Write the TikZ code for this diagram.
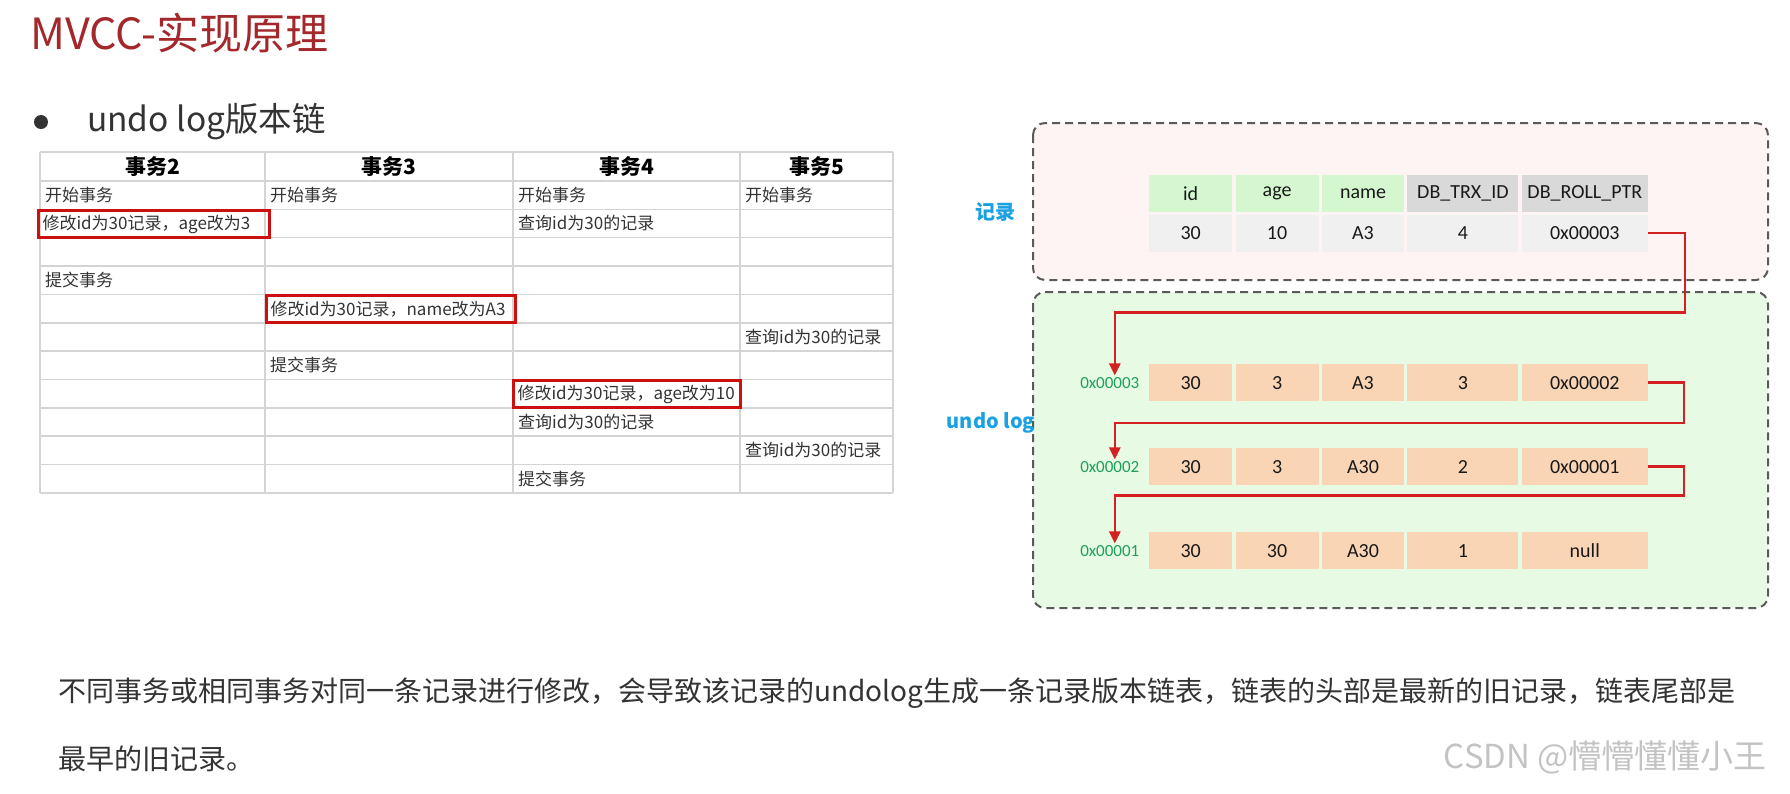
\documentclass[tikz,border=0pt]{standalone}
\usepackage{fontspec}
\setmainfont{Noto Sans CJK SC}
\newfontfamily\calibri{Carlito}
\usepackage{xcolor}
\usepackage{tikz}
\usetikzlibrary{positioning,arrows.meta,calc}
\definecolor{titleRed}{RGB}{164, 40, 43}
\definecolor{txtGray}{RGB}{51, 51, 51}
\definecolor{gridGray}{RGB}{212, 212, 212}
\definecolor{hlRed}{RGB}{204, 16, 16}
\definecolor{boxGray}{RGB}{90, 90, 90}
\definecolor{recBg}{RGB}{253, 244, 243}
\definecolor{undoBg}{RGB}{230, 250, 228}
\definecolor{headGreen}{RGB}{212, 247, 207}
\definecolor{headGray}{RGB}{217, 217, 217}
\definecolor{valGray}{RGB}{240, 240, 240}
\definecolor{undoCell}{RGB}{249, 213, 182}
\definecolor{hexGreen}{RGB}{31, 160, 90}
\definecolor{tagBlue}{RGB}{27, 161, 226}
\definecolor{linkRed}{RGB}{212, 32, 32}
\definecolor{markGray}{RGB}{195, 195, 195}
\newcommand\pxfont[1]{\fontsize{#1}{#1}\selectfont}

\begin{document}
\begin{tikzpicture}[x=1pt, y=-1pt,
    >={Triangle[length=12pt,width=11pt]},
    node distance=3pt and 3pt,
    hdr/.style={font=\pxfont{21}\bfseries, text=black, inner sep=0pt},
    cell/.style={anchor=west, inner sep=5pt, font=\pxfont{17}, text=txtGray},
    hilite/.style={draw=hlRed, line width=3pt, inner xsep=4pt, inner ysep=0pt, text width=#1, minimum height=27pt, align=left},
    gridline/.style={draw=gridGray, line width=1.5pt},
    box/.style={draw=boxGray, dash pattern=on 8pt off 5pt, line width=2pt, rounded corners=12pt},
    fld/.style={minimum height=37pt, inner sep=0pt, font=\calibri\pxfont{20}, text=black!90},
    addr/.style={font=\calibri\pxfont{17}, text=hexGreen, inner sep=1.5pt},
    tag/.style={font=\pxfont{20}\bfseries, text=tagBlue, inner sep=0pt},
    link/.style={draw=linkRed, line width=2.5pt}
]
\useasboundingbox (0,0) rectangle (1790,793);

% heading
\node[anchor=west, font=\pxfont{43}, text=titleRed, inner sep=0pt] (title) at (30,33) {MVCC-实现原理};
\node[circle, fill=txtGray, minimum size=14pt, inner sep=0pt] (dot) at (41,122) {};
\node[anchor=west, font=\pxfont{33.5}, text=txtGray, inner sep=0pt] (sub) at (87,122) {undo log版本链};

% transaction table
\foreach \y in {152,181,209.4,237.7,266.1,294.4,322.8,351.2,379.5,407.9,436.2,464.6,493}
    \draw[gridline] (40,\y) -- (893,\y);
\foreach \x in {40,265,513,740,893}
    \draw[gridline] (\x,152) -- (\x,493);

\node[hdr] (t2) at (152.5,166.5) {事务2};
\node[hdr] (t3) at (389,166.5) {事务3};
\node[hdr] (t4) at (626.5,166.5) {事务4};
\node[hdr] (t5) at (816.5,166.5) {事务5};

\node[cell] (r1c1) at (40,195.2) {开始事务};
\node[cell] (r1c2) at (265,195.2) {开始事务};
\node[cell] (r1c3) at (513,195.2) {开始事务};
\node[cell] (r1c4) at (740,195.2) {开始事务};
\node[cell, hilite=223pt] (r2c1) at (37,224) {修改id为30记录，age改为3};
\node[cell] (r2c3) at (513,223.5) {查询id为30的记录};
\node[cell] (r4c1) at (40,280.3) {提交事务};
\node[cell, hilite=241pt] (r5c2) at (265,309) {修改id为30记录，name改为A3};
\node[cell] (r6c4) at (740,337.0) {查询id为30的记录};
\node[cell] (r7c2) at (265,365.4) {提交事务};
\node[cell, hilite=219pt] (r8c3) at (512,394) {修改id为30记录，age改为10};
\node[cell] (r9c3) at (513,422.1) {查询id为30的记录};
\node[cell] (r10c4) at (740,450.4) {查询id为30的记录};
\node[cell] (r11c3) at (513,478.8) {提交事务};

% record and undo log areas
\draw[box, fill=recBg] (1033,123) rectangle (1768,280);
\draw[box, fill=undoBg] (1033,292) rectangle (1768,608);
\node[tag] (lbl-rec) at (995,212) {记录};
\node[tag] (lbl-undo) at (991,423) {undo log};

\node[fld, fill=headGreen, minimum width=83pt, anchor=north west] (r-id) at (1149,175) {id};
\node[fld, fill=headGreen, minimum width=83pt, right=of r-id] (r-age) {age};
\node[fld, fill=headGreen, minimum width=82pt, right=of r-age] (r-name) {name};
\node[fld, fill=headGray, minimum width=111pt, right=of r-name] (r-trx) {DB\_TRX\_ID};
\node[fld, fill=headGray, minimum width=126pt, right=of r-trx] (r-ptr) {DB\_ROLL\_PTR};
\node[fld, fill=valGray, minimum width=83pt, below=2pt of r-id] (v-id) {30};
\node[fld, fill=valGray, minimum width=83pt, below=2pt of r-age] (v-age) {10};
\node[fld, fill=valGray, minimum width=82pt, below=2pt of r-name] (v-name) {A3};
\node[fld, fill=valGray, minimum width=111pt, below=2pt of r-trx] (v-trx) {4};
\node[fld, fill=valGray, minimum width=126pt, below=2pt of r-ptr] (v-ptr) {0x00003};

\node[fld, fill=undoCell, minimum width=83pt, anchor=north west] (u3-id) at (1149,364) {30};
\node[fld, fill=undoCell, minimum width=83pt, right=of u3-id] (u3-age) {3};
\node[fld, fill=undoCell, minimum width=82pt, right=of u3-age] (u3-name) {A3};
\node[fld, fill=undoCell, minimum width=111pt, right=of u3-name] (u3-trx) {3};
\node[fld, fill=undoCell, minimum width=126pt, right=of u3-trx] (u3-ptr) {0x00002};

\node[fld, fill=undoCell, minimum width=83pt, anchor=north west] (u2-id) at (1149,448) {30};
\node[fld, fill=undoCell, minimum width=83pt, right=of u2-id] (u2-age) {3};
\node[fld, fill=undoCell, minimum width=82pt, right=of u2-age] (u2-name) {A30};
\node[fld, fill=undoCell, minimum width=111pt, right=of u2-name] (u2-trx) {2};
\node[fld, fill=undoCell, minimum width=126pt, right=of u2-trx] (u2-ptr) {0x00001};

\node[fld, fill=undoCell, minimum width=83pt, anchor=north west] (u1-id) at (1149,532) {30};
\node[fld, fill=undoCell, minimum width=83pt, right=of u1-id] (u1-age) {30};
\node[fld, fill=undoCell, minimum width=82pt, right=of u1-age] (u1-name) {A30};
\node[fld, fill=undoCell, minimum width=111pt, right=of u1-name] (u1-trx) {1};
\node[fld, fill=undoCell, minimum width=126pt, right=of u1-trx] (u1-ptr) {null};

\node[addr, left=8pt of u3-id] (a3) {0x00003};
\node[addr, left=8pt of u2-id] (a2) {0x00002};
\node[addr, left=8pt of u1-id] (a1) {0x00001};

\draw[->, link] (v-ptr.east) -- ++(37,0) -- ++(0,79.5) -| ([xshift=5pt]a3.north);
\draw[->, link] (u3-ptr.east) -- ++(36,0) -- ++(0,40.5) -| ([xshift=5pt]a2.north);
\draw[->, link] (u2-ptr.east) -- ++(36,0) -- ++(0,29) -| ([xshift=5pt]a1.north);

% note
\node[anchor=west, font=\pxfont{28}, text=txtGray, inner sep=0pt] (note1) at (58,693) {不同事务或相同事务对同一条记录进行修改，会导致该记录的undolog生成一条记录版本链表，链表的头部是最新的旧记录，链表尾部是};
\node[anchor=west, font=\pxfont{28}, text=txtGray, inner sep=0pt] (note2) at (58,759) {最早的旧记录。};
\node[anchor=east, font=\pxfont{33}, text=markGray, inner sep=0pt] (wm) at (1767,757) {CSDN @懵懵懂懂小王};
\end{tikzpicture}
\end{document}
